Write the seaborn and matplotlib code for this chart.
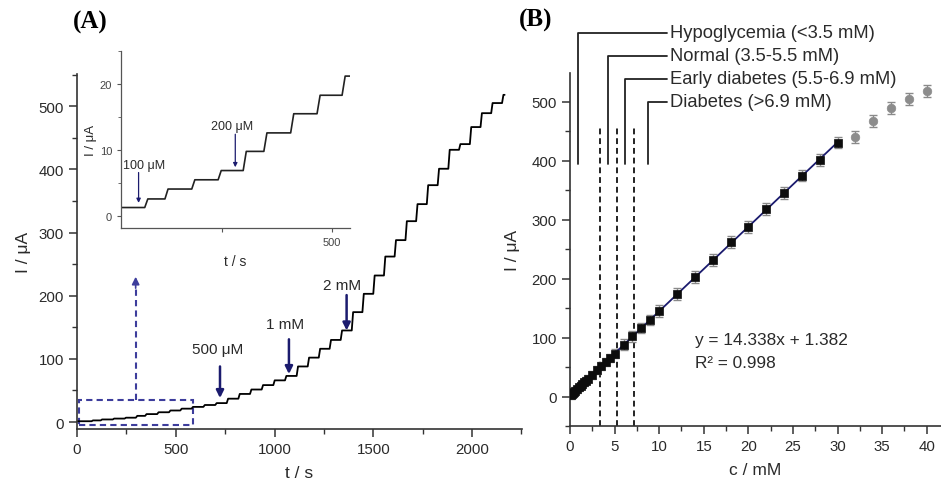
import numpy as np
import pandas as pd
import matplotlib
matplotlib.use("Agg")
import matplotlib.pyplot as plt
import seaborn as sns
from matplotlib.patches import Rectangle
from matplotlib.ticker import MultipleLocator

# ---------------- data ----------------
# amperometric trace (panel A): times of successive glucose additions (s)
step_times = [74, 120, 181, 241,
              298, 345, 406, 466, 523, 580, 640, 700,
              758, 817, 876, 935, 994, 1053,
              1112, 1168, 1224, 1279, 1335,
              1391, 1445, 1500, 1554, 1608, 1663, 1717, 1771, 1826, 1880,
              1934, 1989, 2043, 2097, 2152]
trace_end = 2165
base_level = 1.3

# calibration (panel B)
conc_lin = [0.1, 0.2, 0.3, 0.4, 0.6, 0.8, 1.0, 1.2, 1.4, 1.6, 1.8, 2.0,
            2.5, 3.0, 3.5, 4.0, 4.5, 5.0, 6, 7, 8, 9, 10,
            12, 14, 16, 18, 20, 22, 24, 26, 28, 30]
curr_lin = [2.6, 4.1, 5.5, 6.9, 9.8, 12.6, 15.5, 18.3, 21.2, 24.0, 27.0, 30.0,
            37.0, 44.5, 51.5, 58.5, 66.0, 73.0, 88, 102, 116, 130, 145,
            174, 203, 232, 262, 288, 318, 345, 375, 401, 431]
err_lin = [6, 6, 6, 6, 6, 6, 6, 6, 6, 6, 6, 6,
           7, 7, 7, 7, 7, 7, 9, 9, 9, 9, 10,
           10, 10, 10, 10, 10, 10, 10, 10, 10, 10]
conc_sat = [32, 34, 36, 38, 40]
curr_sat = [440, 467, 489, 505, 518]
err_sat = [10, 10, 10, 10, 10]
fit_slope = 14.338
fit_intercept = 1.382
fit_range = [0, 30]
range_lines = [3.4, 5.3, 7.2]
range_labels = ["Hypoglycemia (<3.5 mM)", "Normal (3.5-5.5 mM)",
                "Early diabetes (5.5-6.9 mM)", "Diabetes (>6.9 mM)"]

# ---------------- style ----------------
sns.set_theme(style="ticks")
plt.rcParams["font.family"] = ["Liberation Sans", "DejaVu Sans"]
TXT = "#2a2a2a"
NAVY = "#1b1b6e"
DASHBLUE = "#3d3d9c"
plt.rcParams.update({
    "axes.edgecolor": "#333333", "axes.linewidth": 1.2,
    "xtick.color": "#333333", "ytick.color": "#333333",
    "xtick.labelcolor": TXT, "ytick.labelcolor": TXT,
    "axes.labelcolor": TXT, "text.color": TXT,
})

W, H = 941, 481
fig = plt.figure(figsize=(W / 100, H / 100), dpi=100)


def rect(l, t, r, b):
    return [l / W, 1 - b / H, (r - l) / W, (b - t) / H]


# build step trace from the step data
levels = [base_level] + curr_lin + curr_sat
xs, ys = [0], [base_level]
for i, t in enumerate(step_times):
    xs += [t, t + 7]
    ys += [levels[i], levels[i + 1]]
xs.append(trace_end)
ys.append(levels[-1])
trace = pd.DataFrame({"t": xs, "I": ys})

# ---------------- panel A ----------------
axA = fig.add_axes(rect(77, 75, 522, 430))
sns.lineplot(data=trace, x="t", y="I", ax=axA, color="black", lw=1.3,
             sort=False, estimator=None)
axA.set_xlim(0, 2253)
axA.set_ylim(-11, 551)
axA.xaxis.set_major_locator(MultipleLocator(500))
axA.xaxis.set_minor_locator(MultipleLocator(250))
axA.yaxis.set_major_locator(MultipleLocator(100))
axA.yaxis.set_minor_locator(MultipleLocator(50))
axA.tick_params(which="major", direction="out", length=6, width=1.1, labelsize=10.8)
axA.tick_params(which="minor", direction="out", length=3.5, width=1.0)
sns.despine(ax=axA)
axA.set_xlabel("t / s", fontsize=12.5, labelpad=6)
axA.set_ylabel("I / μA", fontsize=12.5, labelpad=5)

for txt, tx, ty, ax_t, t0, t1 in [("500 μM", 714, 115, 724, 88, 38),
                                   ("1 mM", 1053, 155, 1073, 131, 76),
                                   ("2 mM", 1342, 217, 1365, 201, 145)]:
    axA.text(tx, ty, txt, ha="center", va="center", fontsize=11)
    axA.annotate("", xy=(ax_t, t1), xytext=(ax_t, t0),
                 arrowprops=dict(arrowstyle="-|>", color=NAVY, lw=1.8,
                                 mutation_scale=11, shrinkA=0, shrinkB=0))

axA.add_patch(Rectangle((12, -4.7), 577, 39.5, fill=False, ec=DASHBLUE,
                        lw=1.5, ls=(0, (3, 2))))
axA.plot([297, 297], [35, 214], color=DASHBLUE, lw=1.5, ls=(0, (3, 2)))
axA.annotate("", xy=(297, 230), xytext=(297, 212),
             arrowprops=dict(arrowstyle="-|>", color=DASHBLUE, lw=1.2,
                             mutation_scale=11, shrinkA=0, shrinkB=0))

# inset
axI = fig.add_axes(rect(121, 52, 350, 229))
axI.set_facecolor("none")
sns.lineplot(data=trace, x="t", y="I", ax=axI, color="#222222", lw=1.2,
             sort=False, estimator=None)
axI.set_xlim(20, 541)
axI.set_ylim(-1.8, 25)
axI.set_xticks([250, 500])
axI.set_xticklabels(["", "500"])
axI.yaxis.set_major_locator(MultipleLocator(10))
axI.yaxis.set_minor_locator(MultipleLocator(5))
axI.tick_params(which="major", direction="out", length=3, width=0.8,
                labelsize=8, colors="#555555", labelcolor="#444444")
axI.tick_params(which="minor", direction="out", length=2, width=0.6, colors="#555555")
for s in ["left", "bottom"]:
    axI.spines[s].set_linewidth(0.9)
    axI.spines[s].set_color("#555555")
sns.despine(ax=axI)
axI.set_xlabel("t / s", fontsize=10, labelpad=5)
axI.set_ylabel("I / μA", fontsize=9.5, labelpad=2)
axI.text(72, 7.8, "100 μM", ha="center", va="center", fontsize=9)
axI.annotate("", xy=(60, 2.0), xytext=(60, 6.6),
             arrowprops=dict(arrowstyle="-|>", color=NAVY, lw=0.9,
                             mutation_scale=6, shrinkA=0, shrinkB=0))
axI.text(272, 13.6, "200 μM", ha="center", va="center", fontsize=9)
axI.annotate("", xy=(280, 7.4), xytext=(280, 12.4),
             arrowprops=dict(arrowstyle="-|>", color=NAVY, lw=0.9,
                             mutation_scale=6, shrinkA=0, shrinkB=0))

fig.text(73 / W, 1 - 22 / H, "(A)", family="Liberation Serif", weight="bold",
         fontsize=18, ha="left", va="center", color="black")

# ---------------- panel B ----------------
axB = fig.add_axes(rect(570, 74, 941, 427))
axB.set_xlim(0, 41.6)
axB.set_ylim(-50, 549)

for xv in range_lines:
    axB.plot([xv, xv], [-50, 455], color="#222222", lw=1.4, ls=(0, (3, 2)), zorder=1)

axB.errorbar(conc_lin, curr_lin, yerr=err_lin, fmt="none", ecolor="#8a8a8a",
             elinewidth=1.0, capsize=3, capthick=1.0, zorder=2)
axB.errorbar(conc_sat, curr_sat, yerr=err_sat, fmt="none", ecolor="#8a8a8a",
             elinewidth=1.0, capsize=3, capthick=1.0, zorder=2)
fit_df = pd.DataFrame({"c": fit_range,
                       "I": [fit_slope * c + fit_intercept for c in fit_range]})
sns.lineplot(data=fit_df, x="c", y="I", ax=axB, color=NAVY, lw=1.3, zorder=3)
sns.scatterplot(x=conc_lin, y=curr_lin, ax=axB, marker="s", s=34,
                color="#0d0d0d", edgecolor="#0d0d0d", linewidth=0.5, zorder=4)
sns.scatterplot(x=conc_sat, y=curr_sat, ax=axB, marker="o", s=38,
                color="#8c8c8c", edgecolor="#8c8c8c", linewidth=0.5, zorder=4)

axB.xaxis.set_major_locator(MultipleLocator(5))
axB.xaxis.set_minor_locator(MultipleLocator(2.5))
axB.yaxis.set_major_locator(MultipleLocator(100))
axB.yaxis.set_minor_locator(MultipleLocator(50))
axB.tick_params(which="major", direction="out", length=6, width=1.1, labelsize=10.8)
axB.tick_params(which="minor", direction="out", length=3.5, width=1.0)
sns.despine(ax=axB)
axB.set_xlabel("c / mM", fontsize=12.5, labelpad=6)
axB.set_ylabel("I / μA", fontsize=12.5, labelpad=8)

bracket_x = [0.93, 4.3, 6.18, 8.8]
bracket_top = [617, 578, 539, 500]
for bx, by, lab in zip(bracket_x, bracket_top, range_labels):
    axB.plot([bx, bx, 10.87], [395, by, by], color="#222222", lw=1.3,
             clip_on=False, zorder=5)
    axB.text(11.2, by, lab, ha="left", va="center", fontsize=13.2, clip_on=False)

axB.text(14.0, 97, "y = 14.338x + 1.382", ha="left", va="center", fontsize=12.4)
axB.text(14.0, 58, "R² = 0.998", ha="left", va="center", fontsize=12.4)

fig.text(519 / W, 1 - 20 / H, "(B)", family="Liberation Serif", weight="bold",
         fontsize=18, ha="left", va="center", color="black")

fig.savefig("out.png", dpi=100)
